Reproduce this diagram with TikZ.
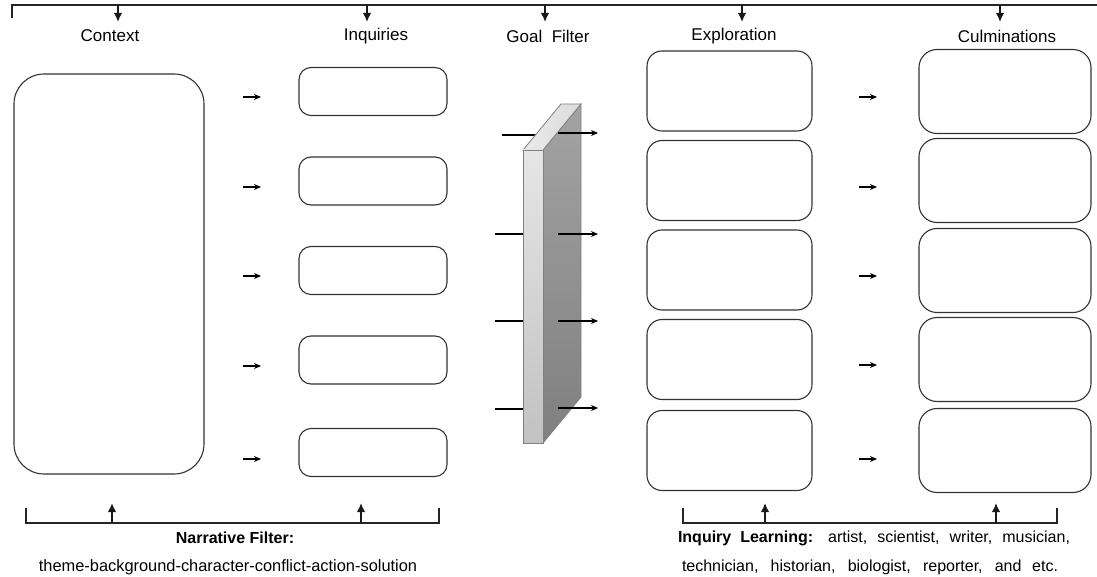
\documentclass[tikz,border=0pt]{standalone}
\usepackage{fontspec}
\setmainfont{Liberation Sans}
\usetikzlibrary{arrows.meta}
\begin{document}
\begin{tikzpicture}[x=1pt,y=-1pt,
  line/.style={draw=black!85, line width=1.6pt},
  bigarr/.style={draw=black!90, line width=1.6pt, -{Latex[length=9pt,width=8.5pt]}},
  smallarr/.style={draw=black, line width=1.1pt, -{Stealth[length=7pt,width=6pt]}},
  box/.style={draw=black!80, line width=1.1pt, fill=white, inner sep=0pt},
  hdr/.style={font=\fontsize{17}{20}\selectfont, text=black, inner sep=0pt},
  txt/.style={font=\fontsize{16}{19}\selectfont, text=black, inner sep=0pt},
]
\useasboundingbox (0,0) rectangle (1097,577);

% ---- top bracket ----
\coordinate (tl) at (12,18);
\coordinate (tlc) at (12,5);
\coordinate (trc) at (1097,5);
\draw[line] (tl) -- (tlc) -- (trc);
\foreach \n/\x in {a/118,b/367,c/545,d/742,e/1000}{
  \coordinate (top\n) at (\x,5);
  \coordinate (tip\n) at (\x,22);
  \draw[bigarr] (top\n) -- (tip\n);
}

% ---- headers ----
\node[hdr] (hctx) at (110,36) {Context};
\node[hdr] (hinq) at (376,36) {Inquiries};
\node[hdr] (hgoal) at (548,36) {Goal\ \ Filter};
\node[hdr] (hexp) at (734,36) {Exploration};
\node[hdr] (hcul) at (1007,36) {Culminations};

% ---- context box ----
\node[box, rounded corners=30pt, minimum width=190pt, minimum height=400pt] (ctx) at (109,274) {};

% ---- inquiries ----
\foreach \i/\y in {1/91.5,2/181,3/270.5,4/360,5/452.5}{
  \node[box, rounded corners=12pt, minimum width=148pt, minimum height=48pt] (inq\i) at (373,\y) {};
}
\foreach \i/\y in {1/97,2/187,3/276,4/366,5/459}{
  \coordinate (la\i) at (243,\y);
  \coordinate (lb\i) at (261,\y);
  \draw[smallarr] (la\i) -- (lb\i);
}

% ---- goal filter slab ----
\foreach \i/\y/\xa/\xb in {1/135/502/540,2/234/495/530,3/321/495/530,4/409/495/530}{
  \coordinate (gin\i) at (\xa,\y);
  \coordinate (gine\i) at (\xb,\y);
  \draw[draw=black, line width=1.1pt] (gin\i) -- (gine\i);
}
\coordinate (f1) at (523,150);
\coordinate (f2) at (543,150);
\coordinate (f3) at (543,443);
\coordinate (f4) at (523,443);
\coordinate (s2) at (581,104);
\coordinate (s3) at (581,397);
\coordinate (t2) at (561,104);
\shade[top color=black!36, bottom color=black!50] (f2) -- (s2) -- (s3) -- (f3) -- cycle;
\draw[draw=black!50, line width=0.8pt] (f2) -- (s2) -- (s3) -- (f3) -- cycle;
\shade[left color=black!8, right color=black!14] (f1) -- (t2) -- (s2) -- (f2) -- cycle;
\draw[draw=black!50, line width=0.8pt] (f1) -- (t2) -- (s2) -- (f2) -- cycle;
\shade[top color=black!10, bottom color=black!24] (f1) -- (f2) -- (f3) -- (f4) -- cycle;
\draw[draw=black!50, line width=0.8pt] (f1) -- (f2) -- (f3) -- (f4) -- cycle;
\foreach \i/\y in {1/133,2/234,3/321,4/408}{
  \coordinate (gout\i) at (558,\y);
  \coordinate (goute\i) at (598,\y);
  \draw[smallarr] (gout\i) -- (goute\i);
}

% ---- exploration / culminations ----
\foreach \i/\y in {1/91,2/180.5,3/270,4/359.5,5/450.5}{
  \node[box, rounded corners=15pt, minimum width=165pt, minimum height=80pt] (exp\i) at (729.5,\y) {};
}
\foreach \i/\y in {1/91.5,2/180.5,3/270.5,4/359.5,5/450.5}{
  \node[box, rounded corners=18pt, minimum width=172pt, minimum height=84pt] (cul\i) at (1005,\y) {};
}
\foreach \i/\y in {1/97,2/187,3/276,4/365,5/459}{
  \coordinate (ra\i) at (859,\y);
  \coordinate (rb\i) at (877,\y);
  \draw[smallarr] (ra\i) -- (rb\i);
}

% ---- bottom left bracket ----
\coordinate (bl1) at (26,508);
\coordinate (bl2) at (26,523);
\coordinate (bl3) at (439,523);
\coordinate (bl4) at (439,508);
\draw[line] (bl1) -- (bl2) -- (bl3) -- (bl4);
\foreach \n/\x in {a/112,b/361}{
  \coordinate (bls\n) at (\x,523);
  \coordinate (blt\n) at (\x,503);
  \draw[bigarr] (bls\n) -- (blt\n);
}
\node[txt, font=\fontsize{16}{19}\selectfont\bfseries] (nf) at (235,538) {Narrative Filter:};
\node[txt, font=\fontsize{16.4}{19}\selectfont] (nfl) at (228,567) {theme-background-character-conflict-action-solution};

% ---- bottom right bracket ----
\coordinate (br1) at (683,508);
\coordinate (br2) at (683,523);
\coordinate (br3) at (1057,523);
\coordinate (br4) at (1057,508);
\draw[line] (br1) -- (br2) -- (br3) -- (br4);
\foreach \n/\x in {a/765,b/996}{
  \coordinate (brs\n) at (\x,523);
  \coordinate (brt\n) at (\x,503);
  \draw[bigarr] (brs\n) -- (brt\n);
}
\node[txt] (il1) at (874,538) {\makebox[392pt][s]{\textbf{Inquiry Learning:} artist, scientist, writer, musician,}};
\node[txt] (il2) at (870,567) {\makebox[376pt][s]{technician, historian, biologist, reporter, and etc.}};
\end{tikzpicture}
\end{document}
